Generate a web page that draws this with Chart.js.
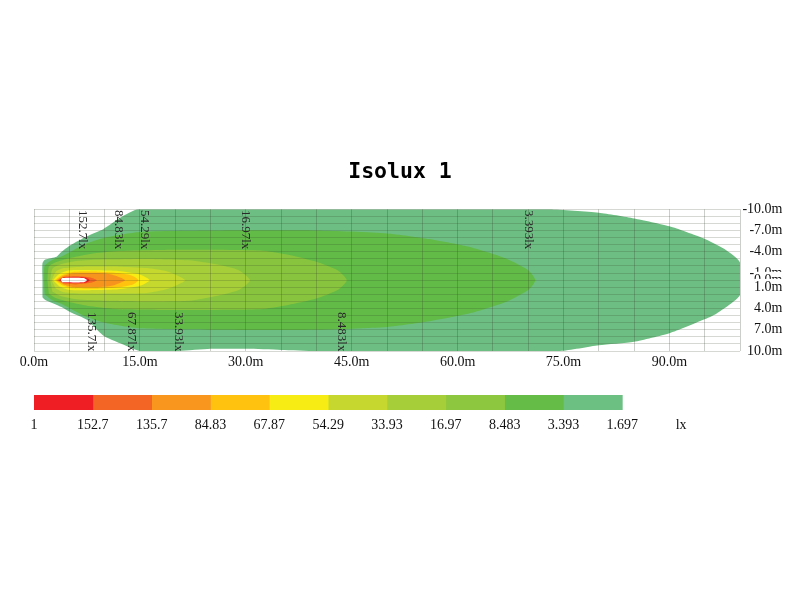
<!DOCTYPE html>
<html>
<head>
<meta charset="utf-8">
<title>Isolux 1</title>
<script src="https://cdn.jsdelivr.net/npm/chart.js@4/dist/chart.umd.js"></script>
<style>
    body { margin: 0; background: #fff; }
    canvas { position: absolute; left: 0; }
</style>
</head>
<body>
<canvas id="isolux" width="800" height="600" style="top:0"></canvas>
<canvas id="scale" width="800" height="60" style="top:385px"></canvas>
<script>
const titleText = 'Isolux 1';

const xTickValues = [0, 15, 30, 45, 60, 75, 90];
const xTickLabels = ['0.0m', '15.0m', '30.0m', '45.0m', '60.0m', '75.0m', '90.0m'];
const yTickValues = [-10, -7, -4, -1, 0, 1, 4, 7, 10];
const yTickLabels = ['-10.0m', '-7.0m', '-4.0m', '-1.0m', '0.0m', '1.0m', '4.0m', '7.0m', '10.0m'];

// contours in metres [distance, offset], brightest first
const contourWhite = [[3.8, 0], [4, -0.3], [7, -0.3], [7.5, 0], [7, 0.3], [4, 0.3]];
const contour152 = [[3.6, 0], [4.2, -0.36], [6, -0.4], [7.4, -0.34], [7.9, 0], [7.4, 0.34], [6, 0.4], [4.2, 0.36]];
const contour135 = [[3.4, 0], [4.2, -0.46], [6, -0.6], [8, -0.38], [8.9, 0], [8, 0.38], [6, 0.6], [4.2, 0.46]];
const contour84 = [[3.2, 0], [4.2, -0.62], [5.5, -0.95], [9, -1], [11, -0.8], [12.9, 0], [11, 0.8], [9, 1], [5.5, 0.95], [4.2, 0.62]];
const contour67 = [[3, 0], [4, -0.72], [5.5, -1.15], [9, -1.2], [12, -1], [14, -0.6], [14.8, 0], [14, 0.6], [12, 1], [9, 1.2], [5.5, 1.15], [4, 0.72]];
const contour54 = [[2.7, 0], [3.6, -0.9], [5, -1.4], [9, -1.4], [12, -1.3], [15, -0.8], [16.4, 0], [15, 0.8], [12, 1.3], [9, 1.4], [5, 1.4], [3.6, 0.9]];
const contour33 = [[2.5, 0], [3.1, -1.2], [4.2, -1.7], [7, -1.9], [12, -1.9], [16, -1.7], [19, -1.2], [21.4, 0], [19, 1.2], [16, 1.8], [12, 1.9], [7, 1.9], [4.2, 1.7], [3.1, 1.2]];
const contour16 = [[2.3, 0], [2.6, -1.6], [3.7, -2.2], [6, -2.7], [10, -2.9], [16, -3], [22, -2.8], [26, -2.2], [29, -1.4], [30.6, 0], [29, 1.4], [26, 2.2], [22, 2.9], [16, 3], [10, 2.9], [6, 2.7], [3.7, 2.2], [2.6, 1.6]];
const contour8 = [[1.9, 0], [2.1, -1.9], [3, -2.5], [5, -3.1], [8, -3.7], [12, -4.1], [20, -4.3], [32, -4.2], [36, -3.6], [40, -2.6], [43, -1.4], [44.3, 0], [43, 1.4], [40, 2.6], [36, 3.5], [32, 4.1], [20, 4.2], [12, 4.1], [8, 3.7], [5, 3.1], [3, 2.5], [2.1, 1.9]];
const contour3 = [[1.4, 0], [1.5, -2], [2.5, -2.8], [4, -3.4], [5.5, -4.2], [7.5, -5.2], [10, -6], [15, -6.8], [25, -7], [40, -7], [50, -6.6], [56, -5.8], [62, -4.6], [67, -3], [70, -1.4], [71, 0], [70, 1.4], [67, 3], [62, 4.6], [56, 5.8], [50, 6.6], [40, 7], [25, 7], [15, 6.8], [10, 6], [7.5, 5.2], [5.5, 4.2], [4, 3.4], [2.5, 2.8], [1.5, 2]];
const contour1 = [[1.2, 0], [1.2, -2.4], [1.6, -2.9], [3.2, -3.3], [3.9, -4], [5.1, -4.9], [7.5, -6.2], [9.8, -7.2], [12.2, -8.8], [14.8, -10], [40, -10], [73, -10], [80, -9.5], [85, -8.7], [90, -7.6], [94.8, -5.9], [98.1, -4.2], [100, -2.5], [100, 2.1], [96.7, 4.7], [94.8, 5.6], [90, 7.5], [85, 8.7], [80, 9.2], [74.5, 10], [47, 10], [40, 10], [35, 9.85], [30, 9.7], [25, 9.7], [20.5, 10], [15, 10], [12.2, 8.9], [9.8, 7.8], [7.5, 5.6], [5.1, 4.5], [3.9, 3.8], [1.6, 2.8], [1.2, 2.4]];

const contours = [contourWhite, contour152, contour135, contour84, contour67, contour54, contour33, contour16, contour8, contour3, contour1];
const contourColors = ['#ffffff', '#ed1c24', '#f26522', '#f7941d', '#ffc20e', '#f7ec13', '#c4d82e', '#a6ce39', '#88c43e', '#62bb46', '#6dbe82'];

// labels written along the contours
const noteTexts = ['152.7lx', '84.83lx', '54.29lx', '16.97lx', '3.393lx', '135.7lx', '67.87lx', '33.93lx', '8.483lx'];
const noteX = [6.8, 12, 15.7, 29.9, 70, 8.2, 13.8, 20.4, 43.5];
const noteY = [-9.9, -9.9, -9.9, -9.9, -9.9, 4.5, 4.5, 4.5, 4.5];

// colour scale under the chart
const scaleLabels = ['1', '152.7', '135.7', '84.83', '67.87', '54.29', '33.93', '16.97', '8.483', '3.393', '1.697', 'lx'];
const scaleColors = ['#ef1e25', '#f36524', '#f8961d', '#ffc20e', '#f7ec13', '#c6d82f', '#a6ce39', '#8dc63f', '#65bc46', '#6cc082'];

const textFont = { family: '"Liberation Serif"', size: 14 };

const notesPlugin = {
    id: 'notes',
    afterDraw(chart) {
        const ctx = chart.ctx;
        ctx.save();
        ctx.font = '13px "Liberation Serif"';
        ctx.fillStyle = '#2a2a2a';
        ctx.textAlign = 'left';
        ctx.textBaseline = 'middle';
        noteTexts.forEach((text, i) => {
            ctx.save();
            ctx.translate(chart.scales.x.getPixelForValue(noteX[i]), chart.scales.y.getPixelForValue(noteY[i]));
            ctx.rotate(Math.PI / 2);
            ctx.fillText(text, 0, 0);
            ctx.restore();
        });
        ctx.restore();
    }
};

new Chart(document.getElementById('isolux'), {
    type: 'scatter',
    plugins: [notesPlugin],
    data: {
        datasets: contours.map((points, i) => ({
            data: points.map((p) => ({ x: p[0], y: p[1] })),
            showLine: true,
            fill: 'shape',
            tension: 0.2,
            backgroundColor: contourColors[i],
            borderWidth: 0,
            pointRadius: 0
        }))
    },
    options: {
        responsive: false,
        animation: false,
        // same padding both sides keeps the title centred on the page
        layout: { padding: { left: 17.5, right: 17.5, top: 0, bottom: 219 } },
        plugins: {
            legend: { display: false },
            tooltip: { enabled: false },
            title: {
                display: true,
                text: titleText,
                color: '#000',
                font: { family: '"DejaVu Sans Mono"', size: 21.5, weight: 'bold' },
                padding: { top: 159.5, bottom: 24 }
            }
        },
        scales: {
            x: {
                type: 'linear',
                min: 0,
                max: 100,
                afterFit(scale) {
                    scale.height = 30;
                    scale.paddingLeft = 0;
                    scale.paddingRight = 0;
                },
                grid: { color: 'rgba(50,60,40,0.25)', z: 1, drawTicks: false },
                border: { display: false },
                ticks: {
                    stepSize: 5,
                    autoSkip: false,
                    maxRotation: 0,
                    padding: 3,
                    color: '#111',
                    font: textFont,
                    callback: (value) => {
                        const i = xTickValues.indexOf(value);
                        return i < 0 ? '' : xTickLabels[i];
                    }
                }
            },
            y: {
                type: 'linear',
                position: 'right',
                reverse: true,
                min: -10,
                max: 10,
                afterFit(scale) {
                    scale.width = 42.5;
                    scale.paddingTop = 0;
                    scale.paddingBottom = 0;
                },
                // labels paint top to bottom so 1.0m ends up over 0.0m
                afterBuildTicks(scale) {
                    scale.ticks.sort((a, b) => a.value - b.value);
                },
                grid: { color: 'rgba(50,60,40,0.2)', z: 1, drawTicks: false },
                border: { display: false },
                ticks: {
                    stepSize: 1,
                    autoSkip: false,
                    padding: 3,
                    crossAlign: 'far',
                    color: '#111',
                    font: textFont,
                    showLabelBackdrop: (ctx) => yTickValues.includes(ctx.tick.value),
                    backdropColor: '#fff',
                    backdropPadding: 0,
                    callback: (value) => {
                        const i = yTickValues.indexOf(value);
                        return i < 0 ? '' : yTickLabels[i];
                    }
                }
            },
            // empty axis, only holds the plot away from the left edge
            spacer: {
                type: 'linear',
                axis: 'y',
                position: 'left',
                afterFit(scale) {
                    scale.width = 16.5;
                    scale.paddingTop = 0;
                    scale.paddingBottom = 0;
                },
                grid: { display: false },
                border: { display: false },
                ticks: { display: false }
            }
        }
    }
});

new Chart(document.getElementById('scale'), {
    type: 'bar',
    data: {
        labels: [''],
        datasets: scaleColors.map((color) => ({
            data: [1],
            backgroundColor: color,
            barPercentage: 1,
            categoryPercentage: 1
        }))
    },
    options: {
        indexAxis: 'y',
        responsive: false,
        animation: false,
        layout: { padding: { left: 34, right: 60, top: 10, bottom: 0 } },
        plugins: { legend: { display: false }, tooltip: { enabled: false } },
        scales: {
            y: { stacked: true, display: false },
            x: {
                stacked: true,
                min: 0,
                max: 12,
                afterFit(scale) {
                    scale.height = 35;
                    scale.paddingLeft = 0;
                    scale.paddingRight = 0;
                },
                grid: { display: false, drawTicks: false },
                border: { display: false },
                ticks: {
                    stepSize: 1,
                    autoSkip: false,
                    maxRotation: 0,
                    padding: 7,
                    color: '#111',
                    font: textFont,
                    callback: (value) => scaleLabels[value] || ''
                }
            }
        }
    }
});
</script>
</body>
</html>
